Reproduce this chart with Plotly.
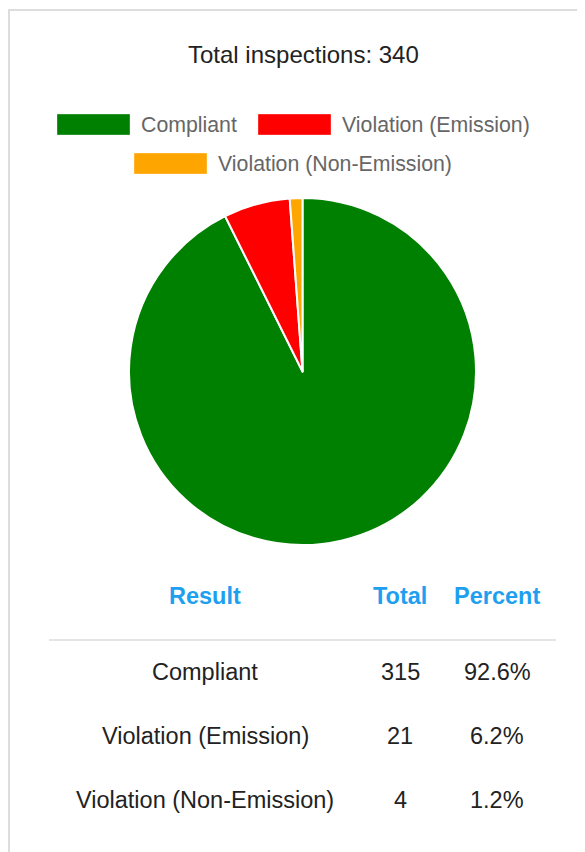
import plotly.graph_objects as go

# ---- data ----
labels = ["Compliant", "Violation (Emission)", "Violation (Non-Emission)"]
counts = [315, 21, 4]
colors = ["#008000", "#ff0000", "#ffa500"]
headers = ["Result", "Total", "Percent"]

total = sum(counts)
percents = [f"{c / total * 100:.1f}%" for c in counts]

# page body has an 8px default margin; size the figure to fit the window
OFF = 8
W, H = 585 - OFF, 852 - OFF
FONT = "Liberation Sans, Arial, Helvetica, sans-serif"


def px(x):
    return (x - OFF) / W


def py(y):
    return 1 - (y - OFF) / H


fig = go.Figure()
fig.add_trace(go.Pie(
    labels=labels,
    values=counts,
    marker=dict(colors=colors, line=dict(color="white", width=2)),
    sort=False,
    direction="clockwise",
    rotation=0,
    textinfo="none",
    hoverinfo="label+value+percent",
    domain=dict(x=[px(129), px(476)], y=[py(545), py(198)]),
    showlegend=False,
))

shapes = []
annotations = []

# frame (partially off-canvas box)
shapes.append(dict(type="line", xref="paper", yref="paper",
                   x0=px(9), x1=px(9), y0=py(10), y1=py(900),
                   line=dict(color="#dddddd", width=2)))
shapes.append(dict(type="line", xref="paper", yref="paper",
                   x0=px(8), x1=px(700), y0=py(10), y1=py(10),
                   line=dict(color="#dddddd", width=2)))

# title
annotations.append(dict(text=f"Total inspections: {total}", x=px(303), y=py(55),
                        xref="paper", yref="paper", showarrow=False,
                        xanchor="center", yanchor="middle",
                        font=dict(family=FONT, size=24, color="#222222")))

# custom legend
legend_pos = [(57, 124.5), (258, 124.5), (134, 163.5)]
for (lx, ly), lab, col in zip(legend_pos, labels, colors):
    shapes.append(dict(type="rect", xref="paper", yref="paper",
                       x0=px(lx), x1=px(lx + 73), y0=py(ly - 10.5), y1=py(ly + 10.5),
                       fillcolor=col, line=dict(color="rgba(255,255,255,0.35)", width=1)))
    annotations.append(dict(text=lab, x=px(lx + 82), y=py(ly), xref="paper", yref="paper",
                            showarrow=False, xanchor="left", yanchor="middle",
                            font=dict(family=FONT, size=21.3, color="#666666")))

# table
col_x = [205, 400, 497]
for cx, hd in zip(col_x, headers):
    annotations.append(dict(text=f"<b>{hd}</b>", x=px(cx), y=py(596), xref="paper", yref="paper",
                            showarrow=False, xanchor="center", yanchor="middle",
                            font=dict(family=FONT, size=23.5, color="#1e9ff0")))

shapes.append(dict(type="line", xref="paper", yref="paper",
                   x0=px(49), x1=px(556), y0=py(640), y1=py(640),
                   line=dict(color="#dddddd", width=1.5)))

row_y = [672, 736, 800]
for ry, lab, cnt, pct in zip(row_y, labels, counts, percents):
    for cx, val in zip(col_x, [lab, str(cnt), pct]):
        annotations.append(dict(text=val, x=px(cx), y=py(ry), xref="paper", yref="paper",
                                showarrow=False, xanchor="center", yanchor="middle",
                                font=dict(family=FONT, size=23.5, color="#222222")))

fig.update_layout(
    width=W, height=H,
    margin=dict(l=0, r=0, t=0, b=0),
    paper_bgcolor="white",
    plot_bgcolor="white",
    showlegend=False,
    shapes=shapes,
    annotations=annotations,
    font=dict(family=FONT),
)

fig.write_html("out.html", config={"displayModeBar": False})
